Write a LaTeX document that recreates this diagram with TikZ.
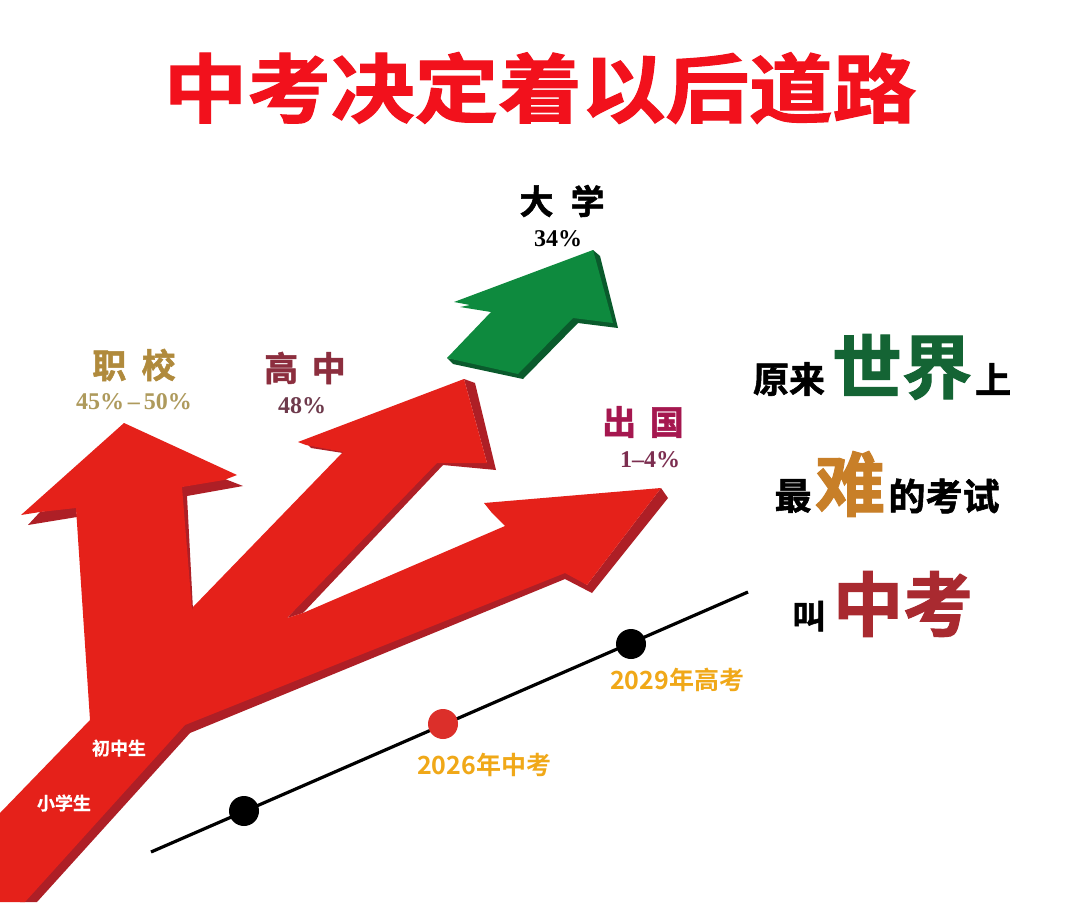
\documentclass[tikz,border=0pt]{standalone}
\usepackage{fontspec}
\usepackage{graphicx}
\newfontfamily\cjk{Noto Sans CJK SC}[BoldFont={Noto Sans CJK SC Bold}]
\newfontfamily\cjkfat{Noto Sans CJK SC Bold}[FakeBold=1.5]
\newfontfamily\cjkmed{Noto Sans CJK SC Bold}[FakeBold=0.6]
\newfontfamily\numfont{Liberation Serif}
\newcommand{\fpx}[1]{\fontsize{\dimexpr#1pt*3/4\relax}{\dimexpr#1pt*3/4\relax}\selectfont}
\definecolor{arrowred}{HTML}{E5211A}
\definecolor{shadered}{HTML}{AE1F26}
\definecolor{arrowgreen}{HTML}{0E8A3E}
\definecolor{shadegreen}{HTML}{0A5A2C}
\definecolor{titlered}{HTML}{F2111C}
\definecolor{gold}{HTML}{B08A3C}
\definecolor{goldnum}{HTML}{AE9A5C}
\definecolor{wine}{HTML}{8C2E3E}
\definecolor{winenum}{HTML}{6E3A4C}
\definecolor{plum}{HTML}{A5174F}
\definecolor{plumnum}{HTML}{7C2E50}
\definecolor{orangelab}{HTML}{F0A818}
\definecolor{dotred}{HTML}{DC2F2A}
\definecolor{bigreen}{HTML}{146434}
\definecolor{bigorange}{HTML}{C87F28}
\definecolor{bigred}{HTML}{A92A30}
\tikzset{
  x=0.75pt,y=-0.75pt,
  lab/.style={inner sep=0pt,outer sep=0pt,anchor=center},
  numlab/.style={lab,font=\numfont\bfseries\fpx{24}},
  dot/.style={circle,minimum size=22.5pt,inner sep=0pt,outer sep=0pt},
}
\begin{document}
\begin{tikzpicture}
\useasboundingbox (0,0) rectangle (1080,902);
\fill[white] (0,0) rectangle (1080,902);
% shadows of the red arrows
\fill[shadered] (40,512)--(28,525)--(77,517)--(76,506)--cycle;
\fill[shadered] (225,479)--(243,486)--(187,496)--(193,610)--(185,612)--(180,487)--cycle;
\fill[shadered] (306,443)--(311,448)--(343,453)--(345,449)--cycle;
\fill[shadered] (464,379)--(475,383)--(496,470)--(443,465)--(303,613)--(287,618)--(430,463)--(487,463)--cycle;
\fill[shadered] (661,488)--(668,498)--(592,593)--(565,579)--(190,733)--(37,902)--(20,902)--(185,722)--(565,570)--(587,585)--cycle;
% red arrow
\fill[arrowred] (124,423)--(237,475)--(224,480)--(182,487)--(192,610)--(193,607)--(343,452)--(306,445)--(298,442)--(464,379)--(487,463)--(437,463)--(287,618)--(303,613)--(505,526)--(492,513)--(484,503)--(661,488)--(587,585)--(565,573)--(185,725)--(25,902)--(0,902)--(0,813)--(90,720)--(76,508)--(40,512)--(21,515)--cycle;
% green arrow
\fill[shadegreen] (593,250)--(600,256)--(618,328)--(578,323)--(523,379)--(453,364)--(447,358)--(518,370)--cycle;
\fill[arrowgreen] (593,250)--(613,323)--(573,318)--(518,374)--(447,358)--(491,312)--(460,307)--(470,305)--(454,302)--cycle;
% time line
\coordinate (linestart) at (151,852);
\coordinate (lineend) at (748,592);
\draw[line width=2.4pt] (linestart)--(lineend);
\node[dot,fill=black] (d1) at (244,811) {};
\node[dot,fill=dotred] (d2) at (443,724) {};
\node[dot,fill=black] (d3) at (631,644) {};
% title
\node[lab,text=titlered,font=\cjkfat\fpx{75}] (title) at (540,88) {\scalebox{1.115}[1]{中考决定着以后道路}};
% arrow labels
\node[lab,font=\cjkfat\fpx{34}] (daxue) at (562,201) {大\hspace{0.5em}学};
\node[numlab] (p34) at (558,239) {34\%};
\node[lab,text=gold,font=\cjkfat\fpx{34}] (zhixiao) at (134,365) {职\hspace{0.45em}校};
\node[numlab,text=goldnum] (p45) at (134,402) {45\%\,–\,50\%};
\node[lab,text=wine,font=\cjkfat\fpx{34}] (gaozhong) at (305,368) {高\hspace{0.4em}中};
\node[numlab,text=winenum] (p48) at (302,406) {48\%};
\node[lab,text=plum,font=\cjkfat\fpx{34}] (chuguo) at (643,422) {出\hspace{0.4em}国};
\node[numlab,text=plumnum] (p1) at (650,460) {1–4\%};
% stage labels
\node[lab,text=white,font=\cjkmed\fpx{18}] (chuzhong) at (119,748) {初中生};
\node[lab,text=white,font=\cjkmed\fpx{18}] (xiaoxue) at (64,803) {小学生};
% dates
\node[lab,text=orangelab,font=\cjk\bfseries\fpx{25}] (y26) at (484,765) {2026年中考};
\node[lab,text=orangelab,font=\cjk\bfseries\fpx{25}] (y29) at (677,680) {2029年高考};
% right side text
\node[lab,font=\cjkfat\fpx{36}] (r1a) at (789,379) {原来};
\node[lab,text=bigreen,font=\cjkfat\fpx{70}] (r1b) at (902,367) {世界};
\node[lab,font=\cjkfat\fpx{36}] (r1c) at (993,379) {上};
\node[lab,font=\cjkfat\fpx{37}] (r2a) at (793,496) {最};
\node[lab,text=bigorange,font=\cjkfat\fpx{70}] (r2b) at (850,484) {难};
\node[lab,font=\cjkfat\fpx{37}] (r2c) at (944,496) {的考试};
\node[lab,font=\cjkfat\fpx{33}] (r3a) at (809,616) {叫};
\node[lab,text=bigred,font=\cjkfat\fpx{70}] (r3b) at (903,604) {中考};
\end{tikzpicture}
\end{document}
